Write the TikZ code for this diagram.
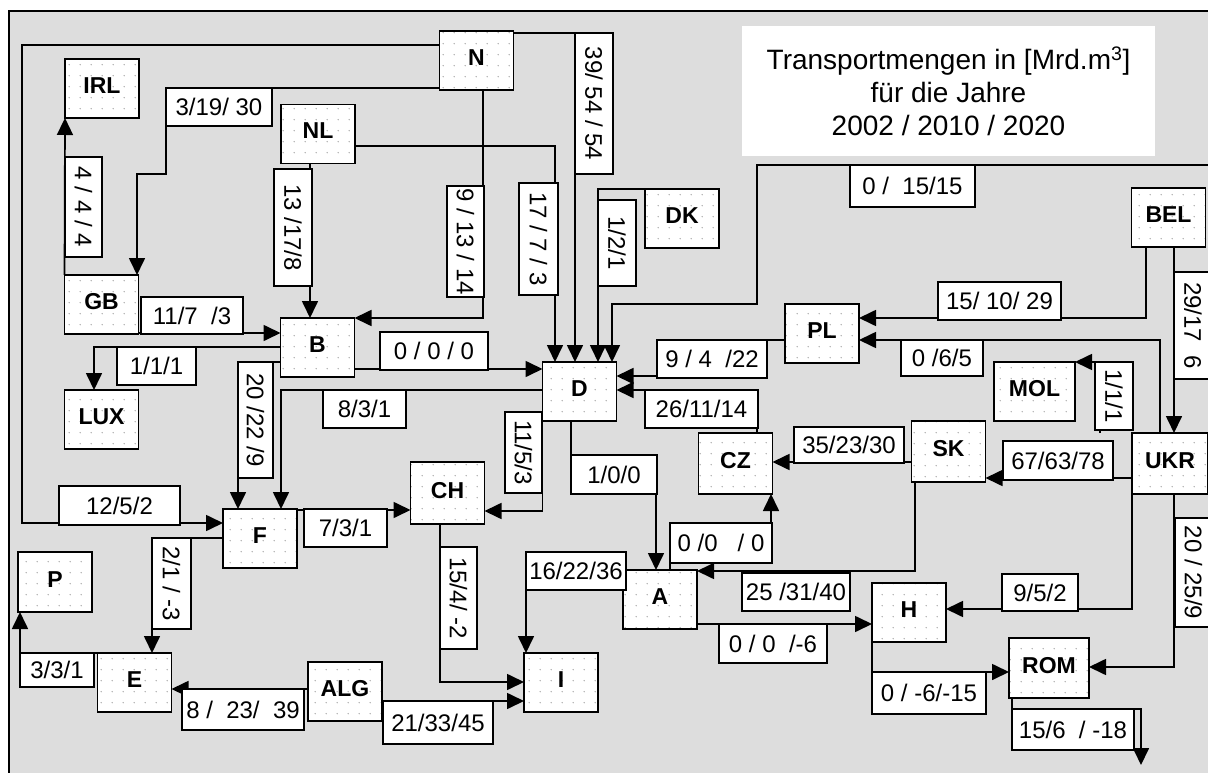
\documentclass[tikz,border=0pt]{standalone}
\usepackage{fontspec}
\setmainfont{Liberation Sans}
\usepackage{tikz}
\usetikzlibrary{arrows.meta, patterns, calc}

\definecolor{bggray}{RGB}{221,221,221}
\definecolor{dotgray}{RGB}{160,160,160}
\pgfdeclarepatternformonly{landdots}{\pgfpointorigin}{\pgfpoint{10.7pt}{10.8pt}}{\pgfpoint{10.7pt}{10.8pt}}{%
  \pgfpathcircle{\pgfpoint{5.3pt}{5.4pt}}{0.7pt}\pgfusepath{fill}}

\begin{document}
\begin{tikzpicture}[x=1pt, y=-1pt, every node/.style={outer sep=0pt},
    land/.style={draw, line width=1.8pt, preaction={fill=white}, pattern=landdots, pattern color=dotgray,
      minimum width=74pt, minimum height=59pt, inner sep=0pt, text height=16pt, text depth=6pt,
      font=\fontsize{23}{25}\selectfont\bfseries},
    lbl/.style 2 args={draw, fill=white, line width=1.8pt, minimum width=#1pt, minimum height=#2pt,
      inner sep=0pt, font=\fontsize{24}{26}\selectfont},
    vlbl/.style 2 args={lbl={#1}{#2}, rotate=-90},
    flow/.style={line width=1.7pt, -{Triangle[length=17pt, width=16pt]}}]
    \useasboundingbox (0,0) rectangle (1208,773);

    % Background
    \fill[bggray] (9,11) rectangle (1208,773);
    \draw[line width=1.4pt] (9,773) -- (9,11) -- (1208,11);

    % Countries
    \node[land] (IRL) at (102,88.5) {IRL};
    \node[land] (NL) at (318,134) {NL};
    \node[land] (N) at (476.5,60.5) {N};
    \node[land] (DK) at (682,218.5) {DK};
    \node[land] (BEL) at (1168.5,217.5) {BEL};
    \node[land] (GB) at (101.5,304.5) {GB};
    \node[land] (B) at (317.5,347.5) {B};
    \node[land] (LUX) at (101.5,419.5) {LUX};
    \node[land] (D) at (579.5,391.5) {D};
    \node[land, minimum height=61pt] (CZ) at (735.5,463.5) {CZ};
    \node[land, minimum height=62pt] (CH) at (447.5,493) {CH};
    \node[land] (PL) at (822,333.5) {PL};
    \node[land, minimum width=81pt] (MOL) at (1034.5,391.5) {MOL};
    \node[land, minimum height=61pt] (SK) at (948.5,451.5) {SK};
    \node[land, minimum width=76pt, minimum height=61pt] (UKR) at (1170,463.5) {UKR};
    \node[land] (F) at (260,538.5) {F};
    \node[land, minimum height=60pt] (P) at (55,582) {P};
    \node[land] (E) at (134.5,682.5) {E};
    \node[land] (ALG) at (345,691.5) {ALG};
    \node[land] (A) at (660,599.5) {A};
    \node[land] (I) at (561,682.5) {I};
    \node[land] (H) at (909,612.5) {H};
    \node[land, minimum width=80pt, minimum height=60pt] (ROM) at (1049,668) {ROM};

    % Title
    \node[fill=white, minimum width=413pt, minimum height=130pt, align=center,
      font=\fontsize{28}{33}\selectfont] (title) at (948.5,91)
      {Transportmengen in [Mrd.m\textsuperscript{3}]\\für die Jahre\\2002 / 2010 / 2020};

    % Pipelines
    \coordinate (eastend) at (1208,165);
    \coordinate (southend) at (1141,765);
    \draw[flow] (N.west |- 0,45) -| (22,523) -- (F.west |- 0,523);
    \draw[flow] (N.west |- 0,88) -| (166,174) -| (GB.north -| 137,0);
    \draw[flow] (N.south -| 483,0) |- (B.north east);
    \draw[flow] (NL.east |- 0,146) -| (D.north -| 555,0);
    \draw[flow] (N.east |- 0,33) -| (D.north -| 575,0);
    \draw[flow] (DK.north west) -| (D.north -| 598,0);
    \draw[flow] (eastend) -| (757,304) -| (D.north -| 612,0);
    \draw[flow] (BEL.south -| 1146,0) |- (PL.east |- 0,318);
    \draw[flow] (BEL.south -| 1174,0) -- (UKR.north -| 1174,0);
    \draw[flow] (UKR.north -| 1160,0) |- (PL.east |- 0,340);
    \draw[flow] (UKR.north -| 1100,0) |- (MOL.north east);
    \draw[flow] (UKR.west |- 0,478) -- (SK.east |- 0,478);
    \draw[flow] (UKR.south west) |- (H.east |- 0,609);
    \draw[flow] (UKR.south -| 1174,0) |- (ROM.east |- 0,667);
    \draw[flow] (PL.west |- 0,340) -- (657,340) |- (D.east |- 0,376);
    \draw[flow] (CZ.north -| 757,0) |- (D.east |- 0,390);
    \draw[flow] (SK.west |- 0,462) -- (CZ.east |- 0,462);
    \draw[flow] (SK.south -| 915,0) |- (A.east |- 0,571);
    \draw[flow] (A.north -| 670,0) -- (670,523) -| (CZ.south -| 771,0);
    \draw[flow] (D.south -| 571,0) -- (571,455) -| (A.north -| 656,0);
    \draw[flow] (D.south west) |- (CH.east |- 0,511);
    \draw[flow] (D.west |- 0,390) -| (F.north -| 281,0);
    \draw[flow] (B.east |- 0,369) -- (D.west |- 0,369);
    \draw[flow] (B.west |- 0,362) -| (F.north -| 238,0);
    \draw[flow] (B.west |- 0,347) -| (LUX.north -| 94,0);
    \draw[flow] (GB.east |- 0,333) -- (B.west |- 0,333);
    \draw[flow] (GB.north west) -- (IRL.south west);
    \draw[flow] (NL.south -| 310,0) -- (B.north -| 310,0);
    \draw[flow] (F.east |- 0,510) -- (CH.west |- 0,510);
    \draw[flow] (F.west |- 0,538) -| (E.north -| 152,0);
    \draw[flow] (E.north west) -| (P.south -| 20,0);
    \draw[flow] (ALG.west |- 0,689) -- (E.east |- 0,689);
    \draw[flow] (ALG.east |- 0,701) -- (I.west |- 0,701);
    \draw[flow] (CH.south -| 440,0) |- (I.west |- 0,682);
    \draw[flow] (A.west |- 0,560) -| (I.north -| 526,0);
    \draw[flow] (A.east |- 0,624) -- (H.west |- 0,624);
    \draw[flow] (H.south west) |- (ROM.west |- 0,672);
    \draw[flow] (ROM.south -| 1012,0) |- (1141,709) -- (southend);

    % Amounts
    \node[lbl={106}{38}] (q1) at (219,107) {3/19/ 30};
    \node[vlbl={100}{37}] (q2) at (83.5,207) {4 / 4 / 4};
    \node[vlbl={117}{38}] (q3) at (293,227.5) {13 /17/8};
    \node[vlbl={111}{37}] (q4) at (465.5,241.5) {9 / 13 / 14};
    \node[vlbl={112}{39}] (q5) at (538.5,239) {17 / 7 / 3};
    \node[vlbl={141}{38}] (q6) at (594,103.5) {39/ 54 / 54};
    \node[vlbl={86}{38}] (q7) at (617,243) {1/2/1};
    \node[lbl={125}{42}] (q8) at (912.5,186) {0 / \ 15/15};
    \node[lbl={123}{38}] (q9) at (999.5,301) {15/ 10/ 29};
    \node[vlbl={107}{38}] (q10) at (1193,325.5) {29/17 \ 6};
    \node[lbl={82}{36}] (q11) at (942,358) {0 /6/5};
    \node[vlbl={68}{38}] (q12) at (1114,396) {1/1/1};
    \node[lbl={110}{39}] (q13) at (1058,460.5) {67/63/78};
    \node[lbl={76}{37}] (q14) at (1040,592.5) {9/5/2};
    \node[vlbl={109}{37}] (q15) at (1193.5,572.5) {20 / 25/9};
    \node[lbl={110}{38}] (q16) at (712,359) {9 / 4 \ /22};
    \node[lbl={113}{38}] (q17) at (701.5,409) {26/11/14};
    \node[lbl={110}{36}] (q18) at (849,445) {35/23/30};
    \node[lbl={108}{38}] (q19) at (796,592) {25 /31/40};
    \node[lbl={102}{40}] (q20) at (721,543) {0 /0 \ \ / 0};
    \node[lbl={86}{39}] (q21) at (614,474.5) {1/0/0};
    \node[vlbl={81}{37}] (q22) at (523.5,452.5) {11/5/3};
    \node[lbl={83}{38}] (q23) at (364.5,409) {8/3/1};
    \node[lbl={108}{38}] (q24) at (434,351) {0 / 0 / 0};
    \node[vlbl={116}{35}] (q25) at (255.5,420) {20 /22 /9};
    \node[lbl={79}{38}] (q26) at (156.5,366) {1/1/1};
    \node[lbl={102}{37}] (q27) at (192,315.5) {11/7 \ /3};
    \node[lbl={83}{38}] (q28) at (345.5,528) {7/3/1};
    \node[vlbl={91}{39}] (q29) at (171.5,583.5) {2/1 / -3};
    \node[lbl={74}{34}] (q30) at (57,670) {3/3/1};
    \node[lbl={122}{41}] (q31) at (243,709.5) {8 / \ 23/ \ 39};
    \node[lbl={110}{43}] (q32) at (438,722.5) {21/33/45};
    \node[vlbl={102}{37}] (q33) at (458.5,598) {15/4/ -2};
    \node[lbl={100}{38}] (q34) at (576,571) {16/22/36};
    \node[lbl={108}{39}] (q35) at (773,643.5) {0 / 0 \ /-6};
    \node[lbl={114}{42}] (q36) at (929,693) {0 / -6/-15};
    \node[lbl={122}{41}] (q37) at (1073,729.5) {15/6 \ / -18};
    \node[lbl={121}{39}] (q38) at (119.5,505.5) {12/5/2};
\end{tikzpicture}
\end{document}
